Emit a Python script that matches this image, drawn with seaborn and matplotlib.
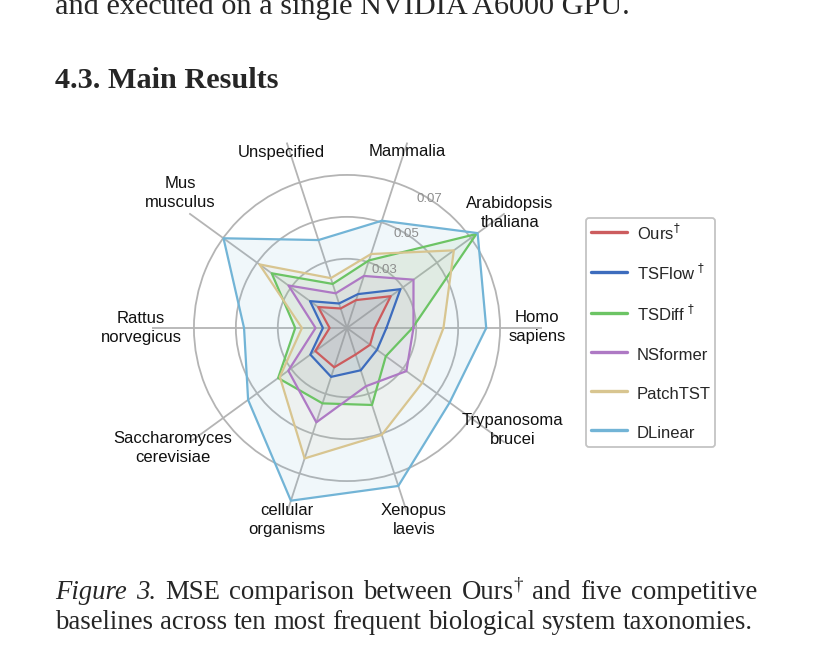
import numpy as np
import pandas as pd
import matplotlib
matplotlib.use("Agg")
import matplotlib.pyplot as plt
import seaborn as sns
from matplotlib.lines import Line2D

# ten most frequent taxonomies, counter-clockwise from 3 o'clock
taxa = ["Homo\nsapiens", "Arabidopsis\nthaliana", "Mammalia", "Unspecified",
        "Mus\nmusculus", "Rattus\nnorvegicus", "Saccharomyces\ncerevisiae",
        "cellular\norganisms", "Xenopus\nlaevis", "Trypanosoma\nbrucei"]

models = ["Ours$^{\\dagger}$", "TSFlow$^{\\,\\dagger}$", "TSDiff$^{\\,\\dagger}$",
          "NSformer", "PatchTST", "DLinear"]

# MSE per taxonomy
ours = [0.0103, 0.0228, 0.0110, 0.0068, 0.0140, 0.0053, 0.0157, 0.0167, 0.0103, 0.0106]
tsflow = [0.0158, 0.0285, 0.0140, 0.0093, 0.0188, 0.0085, 0.0186, 0.0215, 0.0182, 0.0147]
tsdiff = [0.0282, 0.0733, 0.0309, 0.0191, 0.0414, 0.0217, 0.0376, 0.0348, 0.0356, 0.0199]
nsformer = [0.0287, 0.0362, 0.0231, 0.0144, 0.0315, 0.0120, 0.0316, 0.0443, 0.0262, 0.0320]
patchtst = [0.0430, 0.0600, 0.0341, 0.0220, 0.0486, 0.0185, 0.0366, 0.0624, 0.0506, 0.0414]
dlinear = [0.0634, 0.0740, 0.0508, 0.0411, 0.0698, 0.0461, 0.0553, 0.0836, 0.0762, 0.0575]
series = [ours, tsflow, tsdiff, nsformer, patchtst, dlinear]

colors = ["#cc5c5e", "#3d6cbd", "#6cc464", "#ae79c4", "#d8c590", "#72b4d6"]
r_ticks = [0.03, 0.05, 0.07]
# where each category name is centred: (angle in degrees, radius in data units)
label_pos = [(0.3, 0.0878), (35.2, 0.0921), (71.2, 0.0857), (110.6, 0.0866),
             (141.0, 0.0994), (180.0, 0.0952), (214.6, 0.0978), (252.6, 0.0929),
             (289.2, 0.0940), (328.4, 0.0899)]

sns.set_theme(style="white")
plt.rcParams["font.family"] = ["Liberation Sans", "DejaVu Sans"]

W, H = 813, 645
fig = plt.figure(figsize=(W / 100, H / 100), dpi=100)
ax = fig.add_axes([152 / W, (H - 328 - 195) / H, 390 / W, 390 / H], projection="polar")

angles = np.linspace(0, 2 * np.pi, len(taxa), endpoint=False)
closed = list(angles) + [angles[0]]

# long table for seaborn, polygons closed
rows = []
for name, vals in zip(models, series):
    for a, v in zip(closed, vals + [vals[0]]):
        rows.append({"angle": a, "mse": v, "model": name})
df = pd.DataFrame(rows)

for name, vals, c in zip(models, series, colors):
    ax.fill(closed, vals + [vals[0]], color=c, alpha=0.1, lw=0, zorder=2)

sns.lineplot(data=df, x="angle", y="mse", hue="model", palette=colors,
             sort=False, estimator=None, linewidth=1.6, ax=ax, legend=False, zorder=3)

ax.set_ylim(-0.003, 0.09)
ax.set_yticks(r_ticks)
ax.set_yticklabels([])
ax.set_xticks(angles)
ax.set_xticklabels([])
ax.set_xlabel("")
ax.set_ylabel("")
ax.grid(True, color="#b4b4b4", linewidth=1.3)
ax.spines["polar"].set_visible(False)
ax.set_facecolor("none")

# category names just beyond the spokes
for name, (deg, r) in zip(taxa, label_pos):
    ax.text(np.deg2rad(deg), r, name, ha="center", va="center", fontsize=12,
            color="#111111", linespacing=1.35, clip_on=False)

# ring values sitting on the rings
for t in r_ticks:
    ax.text(np.deg2rad(57.5), t, f"{t:.2f}", ha="center", va="center",
            fontsize=9.5, color="#8d8d8d", zorder=4)

handles = [Line2D([], [], color=c, lw=2.4) for c in colors]
leg = ax.legend(handles, models, loc="upper left",
                bbox_to_anchor=(586 / W, 1 - 218 / H), bbox_transform=fig.transFigure,
                fontsize=12, frameon=True, fancybox=True, framealpha=1,
                edgecolor="#c4c4c4", handlelength=2.2, handletextpad=0.55,
                handleheight=1.5, labelspacing=1.12, borderpad=0.28,
                borderaxespad=0)
leg.get_frame().set_linewidth(1.3)

# surrounding paper text
serif = "Liberation Serif"
fig.text(55 / W, 1 - 14 / H, "and executed on a single NVIDIA A6000 GPU.",
         family=serif, fontsize=21.8, va="baseline")
fig.text(55 / W, 1 - 88 / H, "4.3. Main Results", family=serif, fontsize=21.8,
         weight="bold", va="baseline")

renderer = fig.canvas.get_renderer()


def justify(words, x0, x1, base):
    # words: list of word pieces, each a list of (text, style, size, rise)
    widths = []
    for word in words:
        w = 0
        for s, style, size, rise in word:
            t = fig.text(0, 0, s, family=serif, style=style, fontsize=size)
            w += t.get_window_extent(renderer).width
            t.remove()
        widths.append(w)
    gap = (x1 - x0 - sum(widths)) / (len(words) - 1)
    x = x0
    for word, w in zip(words, widths):
        xi = x
        for s, style, size, rise in word:
            t = fig.text(xi / W, 1 - (base - rise) / H, s, family=serif,
                         style=style, fontsize=size, va="baseline")
            xi += t.get_window_extent(renderer).width
        x += w + gap


def plain(text):
    return [[(w, "normal", 19.3, 0)] for w in text.split()]


line1 = ([[("Figure", "italic", 19.3, 0)], [("3.", "italic", 19.3, 0)]]
         + plain("MSE comparison between")
         + [[("Ours", "normal", 19.3, 0), ("\u2020", "normal", 13.5, 9)]]
         + plain("and five competitive"))
justify(line1, 55, 757, 599)
justify(plain("baselines across ten most frequent biological system taxonomies."),
        55, 753, 629)

fig.savefig("out.png", dpi=100)
